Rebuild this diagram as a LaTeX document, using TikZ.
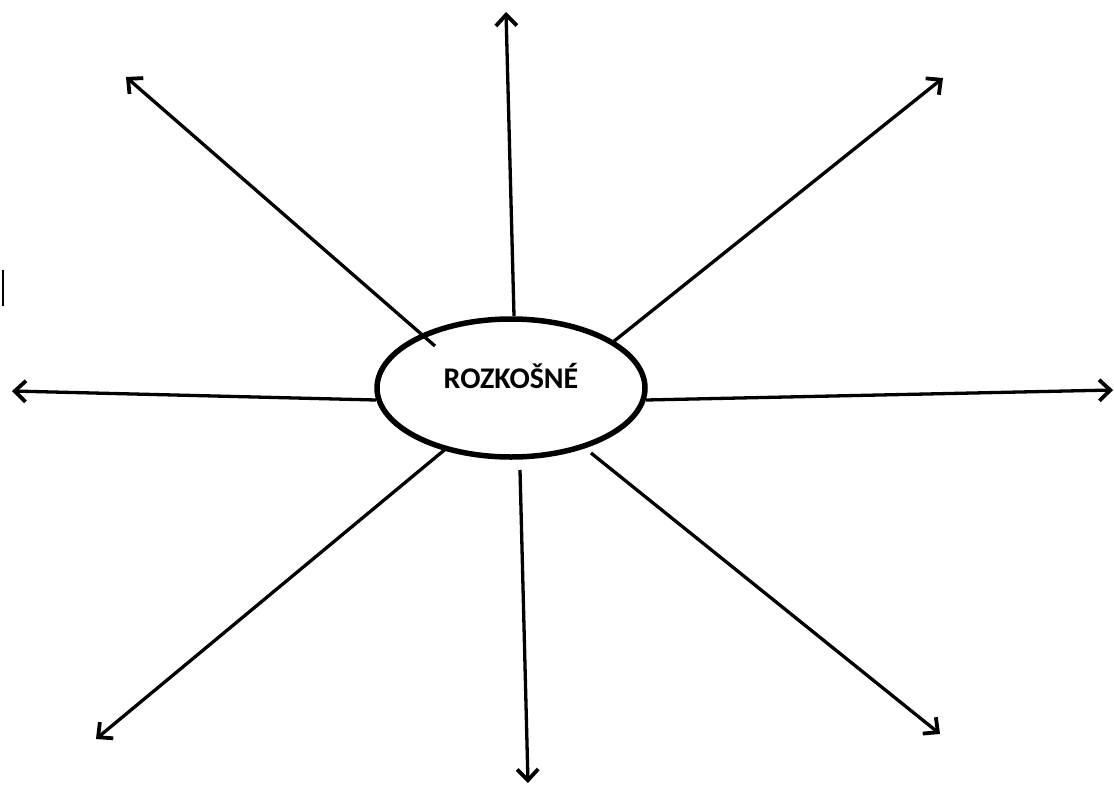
\documentclass[tikz,border=0pt]{standalone}
\usepackage{fontspec}
\setmainfont{Carlito}
\usetikzlibrary{arrows.meta,shapes.geometric}
\tikzset{
  ray/.style={line width=3.3pt,-{Straight Barb[length=11pt,width=21pt,line width=3.8pt]}},
  bubble/.style={draw,ellipse,line width=5.5pt,minimum width=268pt,minimum height=138pt,inner sep=0pt},
}
\begin{document}
\begin{tikzpicture}[x=1pt,y=-1pt]
\useasboundingbox (0,0) rectangle (1114,787);
\node[bubble] (c) at (511,388) {};
\node[anchor=base,font=\bfseries\fontsize{30}{34}\selectfont] (t) at (511,388) {ROZKOŠNÉ};
% start points
\coordinate (s1) at (514,316);
\coordinate (s2) at (435,346);
\coordinate (s3) at (613,342);
\coordinate (s4) at (376,400);
\coordinate (s5) at (646,400);
\coordinate (s6) at (448,447);
\coordinate (s7) at (520,470);
\coordinate (s8) at (591,453);
% tips
\coordinate (e1) at (506,12);
\coordinate (e2) at (126,77);
\coordinate (e3) at (943,78);
\coordinate (e4) at (12,391);
\coordinate (e5) at (1113,390);
\coordinate (e6) at (96,739);
\coordinate (e7) at (528,783);
\coordinate (e8) at (940,734);
\foreach \i in {1,...,8} {\draw[ray] (s\i) -- (e\i);}
\coordinate (b1) at (3,270);
\coordinate (b2) at (3,306);
\draw[line width=1.8pt] (b1) -- (b2);
\end{tikzpicture}
\end{document}
